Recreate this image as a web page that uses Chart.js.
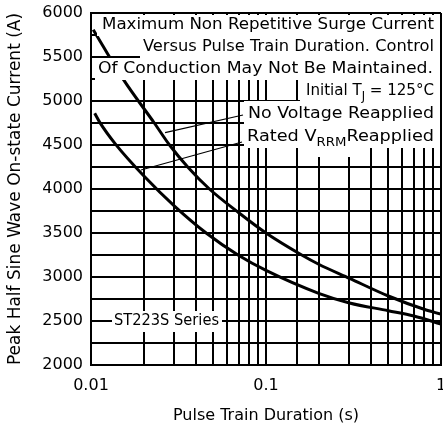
<!DOCTYPE html>
<html>
<head>
<meta charset="utf-8">
<script src="https://cdn.jsdelivr.net/npm/chart.js@4.4.0/dist/chart.umd.min.js"></script>
<style>
  html, body { margin: 0; padding: 0; background: #fff; }
  #wrap { width: 443px; height: 428px; }
</style>
</head>
<body>
<div id="wrap"><canvas id="c" width="443" height="428"></canvas></div>
<script>
// Surge current vs pulse train duration.
const noVoltX = [0.0103, 0.0153, 0.023, 0.0281, 0.0357, 0.0475, 0.0689, 0.1, 0.16, 0.2, 0.3, 0.5, 0.8, 1];
const noVoltY = [5810, 5245, 4750, 4500, 4250, 4000, 3740, 3500, 3250, 3145, 2985, 2784, 2633, 2578];

const ratedX = [0.0105, 0.0112, 0.0138, 0.02, 0.0302, 0.0457, 0.0692, 0.1, 0.2, 0.3, 0.5, 0.7, 1];
const ratedY = [4860, 4760, 4510, 4150, 3800, 3497, 3250, 3075, 2815, 2705, 2617, 2557, 2466];

const xTickLabels = ['0.01', '0.1', '1'];
const yTickLabels = ['2000', '2500', '3000', '3500', '4000', '4500', '5000', '5500', '6000'];

// leader anchors on the curves (data units)
const noVoltAnchor = [0.0265, 4640];
const ratedAnchor = [0.0193, 4216];

const FONT = '"DejaVu Sans", sans-serif';

function pts(xs, ys) {
  return xs.map((x, i) => ({ x, y: ys[i] }));
}

// text rows, each stretched between left and right and sitting on a white patch
const notes = [
  { runs: [['Maximum Non Repetitive Surge Current']], left: 102, right: 434, y: 25 },
  { runs: [['Versus Pulse Train Duration. Control']], left: 143, right: 434, y: 47 },
  { runs: [['Of Conduction May Not Be Maintained.']], left: 98, right: 433, y: 69 },
  { runs: [['Initial T'], ['J', 1], [' = 125°C']], left: 306, right: 434, y: 91 },
  { runs: [['No Voltage Reapplied']], left: 248, right: 434, y: 114 },
  { runs: [['Rated V'], ['RRM', 1], ['Reapplied']], left: 247, right: 434, y: 137 },
  { runs: [['ST223S Series']], left: 114, right: 219, y: 321 },
];
const patches = [
  [97, 15, 440, 36], [140, 36, 440, 58], [95, 58, 440, 80],
  [300, 80, 440, 101], [244, 101, 440, 124], [244, 124, 440, 148],
  [312, 148, 352, 157], [112, 311, 222, 332],
];

function runFont(r) {
  return r[1] ? '12px ' + FONT : '16px ' + FONT;
}

const notesPlugin = {
  id: 'notes',
  afterDatasetsDraw(chart) {
    const ctx = chart.ctx;
    const xs = chart.scales.x, ys = chart.scales.y;
    ctx.save();
    ctx.fillStyle = '#fff';
    patches.forEach(p => ctx.fillRect(p[0], p[1], p[2] - p[0], p[3] - p[1]));

    ctx.fillStyle = '#000';
    ctx.textBaseline = 'middle';
    ctx.textAlign = 'left';
    notes.forEach(n => {
      const widths = n.runs.map(r => { ctx.font = runFont(r); return ctx.measureText(r[0]).width; });
      const total = widths.reduce((a, b) => a + b, 0);
      const sx = (n.right - n.left) / total;
      ctx.save();
      ctx.translate(n.left, 0);
      ctx.scale(sx, 1);
      let x = 0;
      n.runs.forEach((r, i) => {
        ctx.font = runFont(r);
        ctx.fillText(r[0], x, n.y + (r[1] ? 6 : 0));
        x += widths[i];
      });
      ctx.restore();
    });

    // leader lines from the curves to their labels
    ctx.strokeStyle = '#000';
    ctx.lineWidth = 1.2;
    [[noVoltAnchor, 243, 115], [ratedAnchor, 242, 142]].forEach(([a, tx, ty]) => {
      ctx.beginPath();
      ctx.moveTo(xs.getPixelForValue(a[0]), ys.getPixelForValue(a[1]));
      ctx.lineTo(tx, ty);
      ctx.stroke();
    });
    ctx.restore();
  },
};

const lineStyle = {
  borderColor: '#000',
  borderWidth: 3,
  pointRadius: 0,
  fill: false,
  cubicInterpolationMode: 'monotone',
};

new Chart(document.getElementById('c').getContext('2d'), {
  type: 'line',
  data: {
    datasets: [
      Object.assign({ label: 'No Voltage Reapplied', data: pts(noVoltX, noVoltY) }, lineStyle),
      Object.assign({ label: 'Rated VRRM Reapplied', data: pts(ratedX, ratedY) }, lineStyle),
    ],
  },
  options: {
    responsive: false,
    animation: false,
    layout: { padding: { top: 13, right: 2, bottom: 0, left: 0 } },
    plugins: { legend: { display: false }, tooltip: { enabled: false } },
    scales: {
      x: {
        type: 'logarithmic',
        min: 0.01,
        max: 1,
        grid: { color: '#000', lineWidth: 2, drawTicks: false },
        border: { color: '#000', width: 2 },
        ticks: {
          color: '#000',
          padding: 11,
          maxRotation: 0,
          autoSkip: false,
          font: { family: FONT, size: 16 },
          callback(v) {
            const lg = Math.log10(v);
            if (Math.abs(lg - Math.round(lg)) > 1e-6) return '';
            return xTickLabels[Math.round(lg) + 2];
          },
        },
        title: {
          display: true,
          text: 'Pulse Train Duration (s)',
          color: '#000',
          font: { family: FONT, size: 16 },
          padding: { top: 0, bottom: 3 },
        },
        afterFit(s) {
          s.height = 63;
          s.paddingLeft = 0;
          s.paddingRight = 0;
        },
      },
      y: {
        min: 2000,
        max: 6000,
        grid: { color: '#000', lineWidth: 2, drawTicks: false },
        border: { color: '#000', width: 2 },
        ticks: {
          stepSize: 250,
          color: '#000',
          padding: 8,
          autoSkip: false,
          font: { family: FONT, size: 16 },
          callback(v) {
            return yTickLabels.includes(String(v)) ? String(v) : '';
          },
        },
        title: {
          display: true,
          text: 'Peak Half Sine Wave On-state Current (A)',
          color: '#000',
          font: { family: FONT, size: 17 },
          padding: { top: 5, bottom: 0 },
        },
        afterFit(s) {
          s.width = 91;
          s.paddingTop = 0;
          s.paddingBottom = 0;
        },
      },
    },
  },
  plugins: [notesPlugin],
});
</script>
</body>
</html>
